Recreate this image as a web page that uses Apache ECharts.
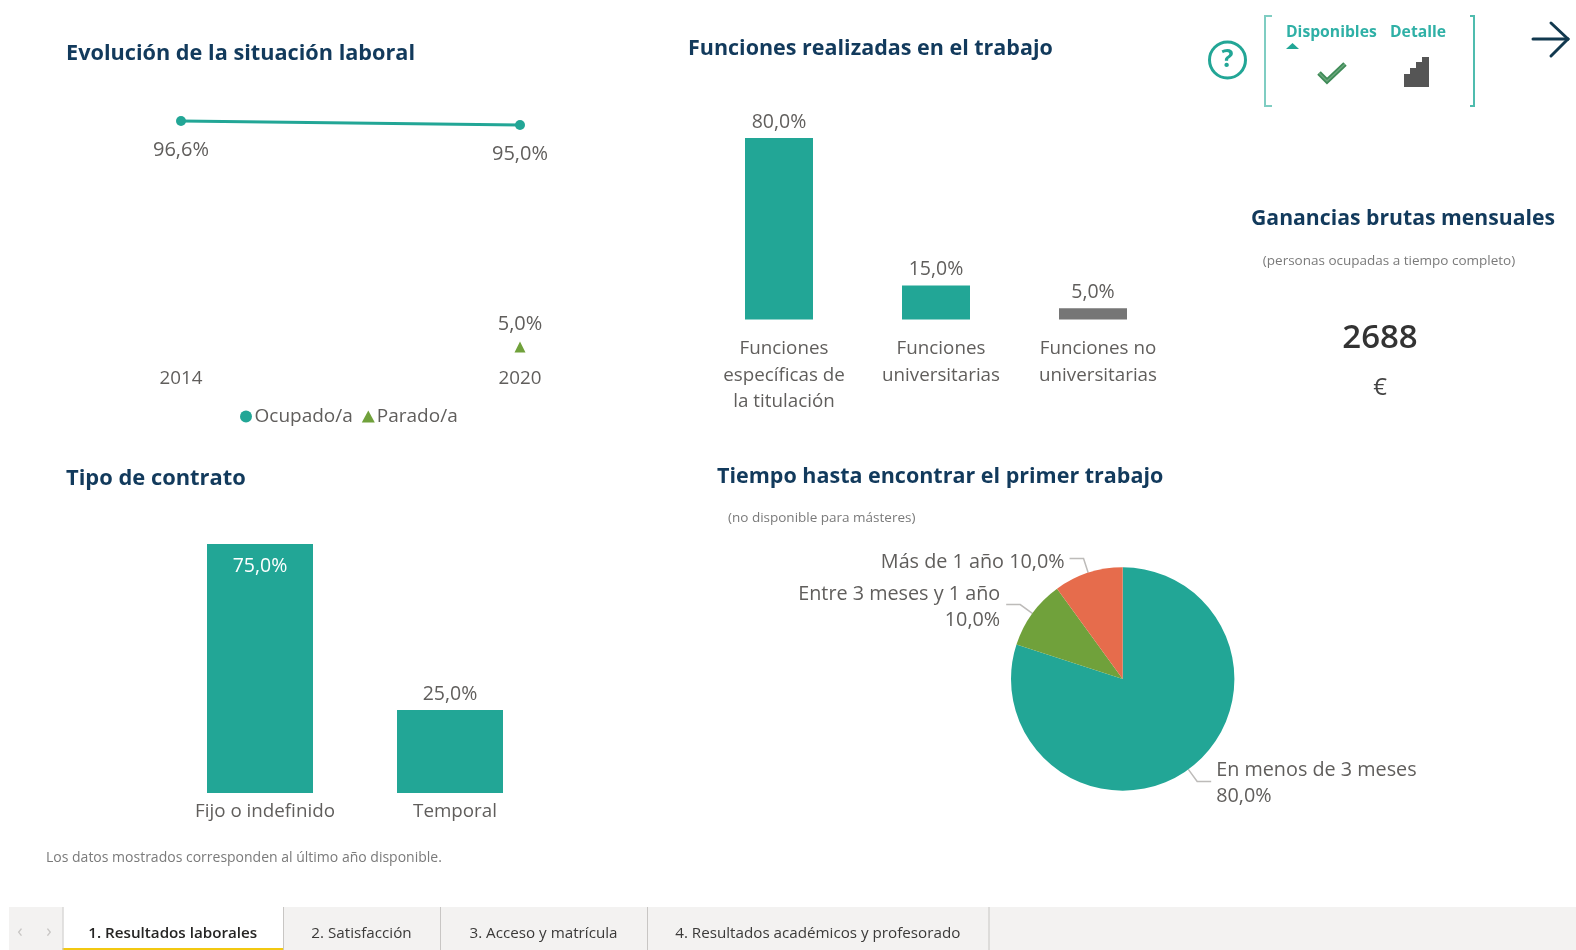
<!DOCTYPE html>
<html lang="es">
<head>
<meta charset="utf-8">
<title>Resultados laborales</title>
<style>html,body{margin:0;padding:0;background:#fff}#c{width:1576px;height:950px}</style>
<script src="https://cdn.jsdelivr.net/npm/echarts@6/dist/echarts.min.js"></script>
</head>
<body>
<div id="c"></div>
<script>
const years = ['2014', '2020'];
const ocupado = [96.6, 95.0];
const parado = [null, 5.0];
const funcionesCats = ['Funciones\nespecíficas de\nla titulación', 'Funciones\nuniversitarias', 'Funciones no\nuniversitarias'];
const funcionesVals = [80.0, 15.0, 5.0];
const contratoCats = ['Fijo o indefinido', 'Temporal'];
const contratoVals = [75.0, 25.0];
const tiempoCats = ['En menos de 3 meses', 'Entre 3 meses y 1 año', 'Más de 1 año'];
const tiempoVals = [80.0, 10.0, 10.0];
const tiempoSeps = ['\n', '\n', ' '];
const tabs = ['1. Resultados laborales', '2. Satisfacción', '3. Acceso y matrícula', '4. Resultados académicos y profesorado'];
const tabEdges = [62.5, 283, 440, 647, 988.5];
const ganancias = '2688';

const TEAL = '#22a696', GREEN = '#70a13b', ORANGE = '#e66c4c', GREY = '#767676';
const TXT = '#605e5c', NAVY = '#123a5c';
const FONT = '"Open Sans", "Noto Sans", sans-serif';
const pct = v => v.toFixed(1).replace('.', ',') + '%';
const vLabel = p => pct(p.value);

const titleAt = (text, left, top, fontSize) => ({text, left, top, padding: 0, textStyle: {fontFamily: FONT, fontWeight: 700, fontSize, color: NAVY}});
const txt = (text, x, y, size, color, extra) => ({type: 'text', x, y, silent: true, style: Object.assign({text, fill: color, fontFamily: FONT, fontSize: size, align: 'left', verticalAlign: 'middle'}, extra || {})});
const seg = (x1, y1, x2, y2, stroke, w) => ({type: 'line', silent: true, shape: {x1, y1, x2, y2}, style: {stroke, lineWidth: w, lineCap: 'round'}});
const rect = (x, y, width, height, fill) => ({type: 'rect', silent: true, shape: {x, y, width, height}, style: {fill}});

const graphics = [
  {type: 'circle', silent: true, shape: {cx: 1227.5, cy: 60, r: 18}, style: {fill: 'none', stroke: TEAL, lineWidth: 3}},
  txt('?', 1227.5, 60, 25, TEAL, {align: 'center', fontWeight: 700}),
  {type: 'polyline', silent: true, shape: {points: [[1272, 16], [1265, 16], [1265, 106], [1272, 106]]}, style: {fill: 'none', stroke: '#7fcdc2', lineWidth: 2}},
  {type: 'polyline', silent: true, shape: {points: [[1470, 16], [1474, 16], [1474, 106], [1470, 106]]}, style: {fill: 'none', stroke: '#4fbcae', lineWidth: 2}},
  txt('Disponibles', 1286, 33, 15.7, '#2fb0a6', {fontWeight: 700}),
  txt('Detalle', 1390, 33, 15.7, '#2fb0a6', {fontWeight: 700}),
  {type: 'polygon', silent: true, shape: {points: [[1286, 49], [1299, 49], [1292.5, 43]]}, style: {fill: TEAL}},
  {type: 'polyline', silent: true, shape: {points: [[1319, 73], [1327, 81], [1345, 64]]}, style: {fill: 'none', stroke: '#3f8b58', lineWidth: 5}},
  {type: 'polyline', silent: true, shape: {points: [[1319, 73], [1327, 81], [1345, 64]]}, style: {fill: 'none', stroke: '#6aa77c', lineWidth: 1.5}},
  rect(1404, 74, 7, 13, '#555'), rect(1410, 68, 7, 19, '#555'), rect(1416, 62, 7, 25, '#555'), rect(1422, 57, 7, 30, '#555'),
  seg(1533, 39, 1568, 39, '#12394f', 3), seg(1551, 23, 1568, 39, '#12394f', 3), seg(1551, 56, 1568, 39, '#12394f', 3),
  txt('(personas ocupadas a tiempo completo)', 1389, 261, 13.5, '#7a7a7a', {align: 'center'}),
  txt(ganancias, 1380, 339, 33, '#333', {align: 'center', fontWeight: 600}),
  txt('€', 1380, 388, 24, '#444', {align: 'center'}),
  txt('(no disponible para másteres)', 728, 518, 13.5, '#7a7a7a'),
  txt('Los datos mostrados corresponden al último año disponible.', 46, 858, 14, '#7a7a7a'),
  rect(9, 907, 1567, 43, '#f3f2f1'),
  rect(tabEdges[0], 907, tabEdges[1] - tabEdges[0], 43, '#fff'),
  rect(tabEdges[0], 948, tabEdges[1] - tabEdges[0], 2, '#f2c811'),
  txt('‹', 20, 932, 18, '#c8c6c4', {align: 'center'}),
  txt('›', 49, 932, 18, '#c8c6c4', {align: 'center'}),
  ...tabEdges.map(x => rect(x, 907, 1, 43, '#c8c6c4')),
  ...tabs.map((t, i) => txt(t, (tabEdges[i] + tabEdges[i + 1]) / 2, 934, 15.2, i === 0 ? '#252423' : '#3b3a39', {align: 'center', fontWeight: i === 0 ? 600 : 400}))
];

const hiddenY = (gridIndex, max) => ({type: 'value', gridIndex, min: 0, max, show: false});
const catX = (gridIndex, data, margin, extra) => ({
  type: 'category', gridIndex, data,
  axisLine: {show: false}, axisTick: {show: false},
  axisLabel: Object.assign({interval: 0, margin, color: TXT, fontFamily: FONT, fontSize: 18.8, lineHeight: 26.5}, extra || {})
});
const lblStyle = {color: TXT, fontFamily: FONT, fontSize: 19.5};

const option = {
  animation: false,
  backgroundColor: '#fff',
  title: [
    titleAt('Evolución de la situación laboral', 66, 43, 21.7),
    titleAt('Funciones realizadas en el trabajo', 688, 38, 21.5),
    titleAt('Ganancias brutas mensuales', 1251, 208, 21.2),
    titleAt('Tipo de contrato', 66, 468, 21.9),
    titleAt('Tiempo hasta encontrar el primer trabajo', 717, 466, 21.5)
  ],
  legend: {
    left: 235, top: 402, itemGap: 9, itemWidth: 13, itemHeight: 12,
    textStyle: {color: TXT, fontFamily: FONT, fontSize: 19, padding: [0, 0, 0, -3]},
    data: [{name: 'Ocupado/a', icon: 'circle'}, {name: 'Parado/a', icon: 'triangle'}]
  },
  grid: [
    {left: 181, width: 339, top: 112.6, height: 246.7},
    {left: 700.5, width: 471, top: 138, height: 181.6},
    {left: 165, width: 380, top: 544, height: 249}
  ],
  xAxis: [
    Object.assign(catX(0, years, 6, {}), {boundaryGap: false}),
    catX(1, funcionesCats, 16, {padding: [0, 0, 0, 10]}),
    catX(2, contratoCats, 5, {padding: [0, 0, 0, 10]})
  ],
  yAxis: [hiddenY(0, 100), hiddenY(1, 80), hiddenY(2, 75)],
  series: [
    {name: 'Ocupado/a', type: 'line', xAxisIndex: 0, yAxisIndex: 0, data: ocupado, symbol: 'circle', symbolSize: 10,
      lineStyle: {color: TEAL, width: 3}, itemStyle: {color: TEAL},
      label: {show: true, position: 'bottom', distance: 14, formatter: vLabel, color: TXT, fontFamily: FONT, fontSize: 20}},
    {name: 'Parado/a', type: 'line', xAxisIndex: 0, yAxisIndex: 0, data: parado, symbol: 'triangle', symbolSize: 11,
      lineStyle: {color: GREEN, width: 3}, itemStyle: {color: GREEN},
      label: {show: true, position: 'top', distance: 7, formatter: vLabel, color: TXT, fontFamily: FONT, fontSize: 20}},
    {name: 'Funciones', type: 'bar', xAxisIndex: 1, yAxisIndex: 1, barWidth: 68,
      data: funcionesVals.map((value, i) => ({value, itemStyle: {color: i === 2 ? GREY : TEAL}})),
      label: Object.assign({show: true, position: 'top', distance: 6, formatter: vLabel}, lblStyle)},
    {name: 'Contrato', type: 'bar', xAxisIndex: 2, yAxisIndex: 2, barWidth: 106,
      data: contratoVals.map((value, i) => ({value, itemStyle: {color: TEAL},
        label: i === 0 ? {position: 'insideTop', distance: 12, color: '#fff'} : {position: 'top', distance: 6}})),
      label: Object.assign({show: true, formatter: vLabel}, lblStyle)},
    {name: 'Tiempo', type: 'pie', center: [1122.7, 679], radius: [0, 111.7], startAngle: 90, clockwise: true,
      data: tiempoCats.map((name, i) => ({name, value: tiempoVals[i], itemStyle: {color: [TEAL, GREEN, ORANGE][i]}})),
      label: {show: true, position: 'outside', alignTo: 'none', lineHeight: 26.5, color: TXT, fontFamily: FONT, fontSize: 19.8,
        formatter: p => p.name + tiempoSeps[p.dataIndex] + pct(p.value)},
      labelLayout: p => ({dy: [2, 3, 4][p.dataIndex], dx: p.dataIndex === 1 ? -1 : 0}),
      labelLine: {show: true, length: 15, length2: 14, smooth: false, lineStyle: {color: '#bdbbb9', width: 1.5}}}
  ],
  graphic: {elements: graphics}
};
echarts.init(document.getElementById('c'), null, {renderer: 'canvas'}).setOption(option);
</script>
</body>
</html>
